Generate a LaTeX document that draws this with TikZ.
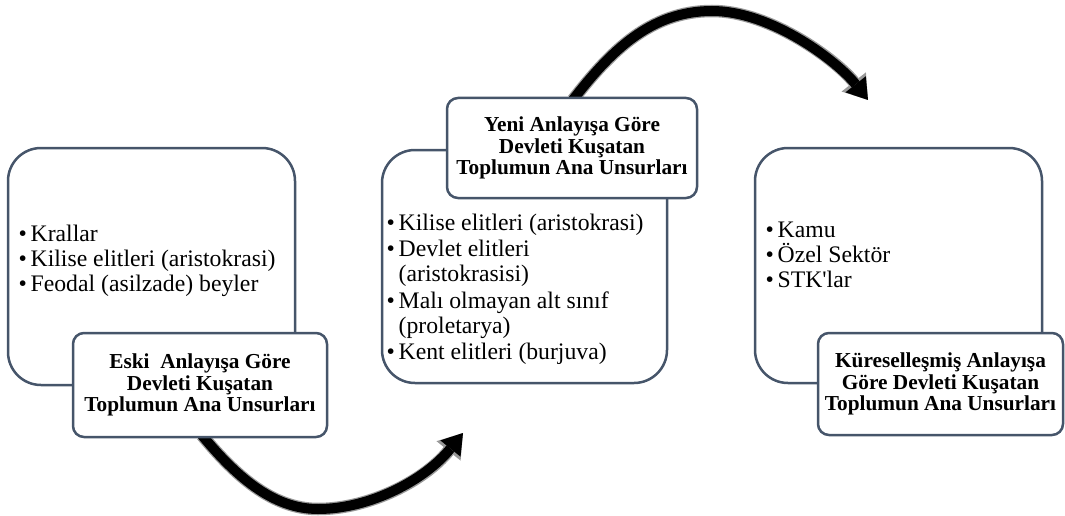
\documentclass[tikz,border=0pt]{standalone}
\usepackage{fontspec}
\setmainfont{Liberation Serif}
\usetikzlibrary{arrows.meta,backgrounds,calc}
\definecolor{boxline}{RGB}{70,85,106}
\newcommand\bitem[1]{\hbox{\makebox[12pt][l]{\textbullet}#1}}
\newcommand\bcont[1]{\hbox{\hspace*{12pt}#1}}
\newcommand\itemgap{\vskip1.5pt}
\begin{document}
\begin{tikzpicture}[x=1pt,y=-1pt,
  bigbox/.style={draw=boxline, line width=2.5pt, fill=white, rounded corners=33pt, inner sep=0pt},
  labelbox/.style={draw=boxline, line width=2.5pt, fill=white, rounded corners=11pt, inner sep=0pt,
    align=center, font=\bfseries\fontsize{21.3}{21.5}\selectfont},
  listtext/.style={anchor=base west, inner sep=0pt, font=\fontsize{23.7}{25}\selectfont},
  arrowgray/.style={line width=12.5pt, draw=black!40, -{Triangle[length=23pt,width=31pt,line width=0pt]}},
  arrowblack/.style={line width=10pt, draw=black, -{Triangle[length=20pt,width=26pt,line width=0pt]}}]
\useasboundingbox (0,0) rectangle (1065,516);

% big boxes
\node[bigbox, minimum width=287pt, minimum height=237pt] (b1) at (151.5,266.5) {};
\node[bigbox, minimum width=285pt, minimum height=233pt] (b2) at (524.5,266.5) {};
\node[bigbox, minimum width=287pt, minimum height=235pt] (b3) at (898.5,265.5) {};

% lists
\node[listtext] (t1) at (18.5,241) {\vtop{\bitem{Krallar}\bitem{Kilise elitleri (aristokrasi)}\bitem{Feodal (asilzade) beyler}}};
\node[listtext] (t2) at (386.5,230) {\vtop{\bitem{Kilise elitleri (aristokrasi)}\itemgap
  \bitem{Devlet elitleri}\bcont{(aristokrasisi)}\itemgap
  \bitem{Malı olmayan alt sınıf}\bcont{(proletarya)}\itemgap
  \bitem{Kent elitleri (burjuva)}}};
\node[listtext] (t3) at (765.5,237) {\vtop{\bitem{Kamu}\bitem{Özel Sektör}\bitem{STK\textquotesingle lar}}};

% label boxes
\node[labelbox, minimum width=254pt, minimum height=104pt] (l1) at (200,385)
  {Eski~~Anlayışa Göre\\Devleti Kuşatan\\Toplumun Ana Unsurları};
\node[labelbox, minimum width=250pt, minimum height=100pt] (l2) at (572,148)
  {Yeni Anlayışa Göre\\Devleti Kuşatan\\Toplumun Ana Unsurları};
\node[labelbox, minimum width=245pt, minimum height=102pt] (l3) at (940.5,384)
  {Küreselleşmiş Anlayışa\\Göre Devleti Kuşatan\\Toplumun Ana Unsurları};

% arrows
\coordinate (a1low) at (318,509);
\coordinate (a1tip) at (463,433);
\coordinate (a2top) at (712,11);
\coordinate (a2tip) at (868,100);
\begin{scope}[on background layer]
  \draw[arrowgray] ($(l1.south)+(2,-3)$) .. controls (235,475) and (272,509) .. (a1low)
     .. controls (370,509) and (425,480) .. (a1tip);
  \draw[arrowblack] ($(l1.south)+(2,-3)$) .. controls (235,475) and (272,509) .. (a1low)
     .. controls (370,509) and (425,480) .. (a1tip);
  \draw[arrowgray] ($(l2.north)+(1,3)$) .. controls (610,52) and (650,11) .. (a2top)
     .. controls (772,11) and (838,62) .. (a2tip);
  \draw[arrowblack] ($(l2.north)+(1,3)$) .. controls (610,52) and (650,11) .. (a2top)
     .. controls (772,11) and (838,62) .. (a2tip);
\end{scope}
\end{tikzpicture}
\end{document}
